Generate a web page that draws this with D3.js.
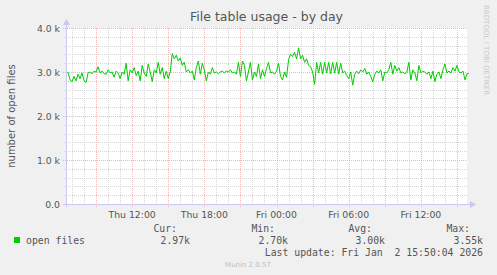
<!DOCTYPE html>
<html>
<head>
<meta charset="utf-8">
<script src="https://cdn.jsdelivr.net/npm/d3@7"></script>
<style>
  body { margin: 0; background: #f0f0f0; }
  svg { display: block; }
  text { font-family: "DejaVu Sans", sans-serif; }
  .mono { font-family: "DejaVu Sans Mono", monospace; }
</style>
</head>
<body>
<script>
// open files, one sample per 10 minutes, in thousands
const seg1 = [3.00, 2.82, 2.78, 2.90, 2.80, 2.95, 2.85, 2.98, 2.80, 2.76, 2.98, 3.00, 2.96, 3.02, 3.00, 3.12, 2.98, 3.02, 2.96, 2.95,
  3.05, 2.98, 3.00, 2.88, 3.02, 2.98, 2.85, 3.00, 2.95, 3.20, 2.80, 3.05, 2.98, 3.10, 2.92, 3.02, 2.80, 3.15, 2.98, 2.90,
  3.18, 3.00, 2.78, 3.05, 2.98, 3.22, 2.95, 3.10, 2.85, 3.02];
const seg2 = [2.85, 3.00, 3.42, 3.30, 3.38, 3.25, 3.32, 3.15, 3.22, 3.00, 3.05, 2.98, 3.02, 2.82, 3.10, 3.25, 2.95, 3.20, 3.05, 2.80,
  3.00, 2.95, 3.10, 2.98, 3.00, 2.96, 3.00, 3.02, 2.98, 3.02, 3.00, 3.05, 2.98, 3.00, 2.95, 3.22, 2.90, 3.25, 3.15, 2.80,
  3.00, 3.22, 2.82, 3.00, 2.90, 3.18, 2.85, 3.05, 2.90, 3.08];
const seg3 = [3.22, 2.98, 3.00, 2.95, 3.02, 3.20, 2.90, 2.82, 3.00, 2.88, 3.28, 3.40, 3.35, 3.45, 3.30, 3.55, 3.30, 3.38, 3.22, 3.30,
  3.15, 3.12, 3.00, 2.72, 3.22, 2.98, 3.22, 2.95, 3.22, 2.98, 3.22, 2.96, 3.22, 2.98, 3.22, 2.95, 3.20, 2.98, 3.02, 2.92,
  2.85, 3.00, 2.70, 2.95, 3.02, 2.96, 3.05, 3.00, 3.08, 2.95];
const seg4 = [3.00, 2.90, 2.78, 2.95, 3.02, 2.98, 3.05, 2.80, 3.00, 2.98, 3.05, 3.22, 2.95, 3.15, 3.02, 3.10, 2.98, 3.00, 2.96, 3.00,
  3.22, 2.82, 3.05, 2.98, 2.80, 3.15, 2.98, 3.02, 3.00, 2.95, 3.00, 2.85, 3.02, 2.78, 2.95, 3.00, 2.85, 3.05, 3.18, 2.98,
  3.02, 2.98, 3.10, 3.02, 3.15, 3.00, 2.98, 3.02, 2.82, 2.96, 2.97];
const openFiles = seg1.concat(seg2, seg3, seg4);

const yTicks = [0, 1000, 2000, 3000, 4000];
const yTickLabels = ["0.0", "1.0 k", "2.0 k", "3.0 k", "4.0 k"];
const xTickLabels = ["Thu 12:00", "Thu 18:00", "Fri 00:00", "Fri 06:00", "Fri 12:00"];
const statNames = ["Cur:", "Min:", "Avg:", "Max:"];
const statValues = ["2.97k", "2.70k", "3.00k", "3.55k"];

const endTime = new Date(2026, 0, 2, 15, 50, 4);
const startTime = new Date(endTime.getTime() - 120000 * 1000);
const stepMs = 600 * 1000;

const W = 497, H = 275;
const pLeft = 66, pRight = 467, pTop = 28, pBottom = 204;

const svg = d3.select("body").append("svg").attr("width", W).attr("height", H);

svg.append("rect").attr("width", W).attr("height", H).attr("fill", "#f0f0f0");
svg.append("rect")
  .attr("x", pLeft).attr("y", pTop)
  .attr("width", pRight - pLeft).attr("height", pBottom - pTop)
  .attr("fill", "#ffffff");

const x = d3.scaleTime().domain([startTime, endTime]).range([pLeft, pRight]);
const y = d3.scaleLinear().domain([0, 4000]).range([pBottom, pTop]);

// minor grid
const hours = d3.timeHour.range(startTime, endTime);
svg.append("g").selectAll("line")
  .data(hours.filter(d => d.getHours() % 3 !== 0))
  .join("line")
  .attr("x1", d => Math.round(x(d)) + 0.5).attr("x2", d => Math.round(x(d)) + 0.5)
  .attr("y1", pTop).attr("y2", pBottom + 2)
  .attr("stroke", "#d8d8d8").attr("stroke-dasharray", "1,1");
svg.append("g").selectAll("line")
  .data(d3.range(200, 4000, 200).filter(v => v % 1000 !== 0))
  .join("line")
  .attr("x1", pLeft - 2).attr("x2", pRight)
  .attr("y1", d => Math.round(y(d)) + 0.5).attr("y2", d => Math.round(y(d)) + 0.5)
  .attr("stroke", "#d8d8d8").attr("stroke-dasharray", "1,1");

// major grid
svg.append("g").selectAll("line")
  .data(hours.filter(d => d.getHours() % 3 === 0))
  .join("line")
  .attr("x1", d => Math.round(x(d)) + 0.5).attr("x2", d => Math.round(x(d)) + 0.5)
  .attr("y1", pTop).attr("y2", pBottom + 3)
  .attr("stroke", "#e8b8b8").attr("stroke-dasharray", "1,1");
svg.append("g").selectAll("line")
  .data(yTicks.slice(1))
  .join("line")
  .attr("x1", pLeft - 3).attr("x2", pRight)
  .attr("y1", d => Math.round(y(d)) + 0.5).attr("y2", d => Math.round(y(d)) + 0.5)
  .attr("stroke", "#e8b8b8").attr("stroke-dasharray", "1,1");

// axes lines with arrows
const axisColor = "#c8c8f0";
svg.append("line").attr("x1", pLeft + 0.5).attr("x2", pLeft + 0.5).attr("y1", pBottom + 3).attr("y2", pTop - 4)
  .attr("stroke", axisColor);
svg.append("path").attr("d", `M${pLeft - 3},${pTop - 3}L${pLeft + 0.5},${pTop - 9}L${pLeft + 4},${pTop - 3}Z`).attr("fill", axisColor);
svg.append("line").attr("x1", pLeft - 3).attr("x2", pRight + 4).attr("y1", pBottom + 0.5).attr("y2", pBottom + 0.5)
  .attr("stroke", axisColor);
svg.append("path").attr("d", `M${pRight + 3},${pBottom - 3}L${pRight + 9},${pBottom + 0.5}L${pRight + 3},${pBottom + 4}Z`).attr("fill", axisColor);

// y tick labels
svg.append("g").selectAll("text")
  .data(yTicks)
  .join("text")
  .attr("x", pLeft - 6).attr("y", d => y(d) + 3.5)
  .attr("text-anchor", "end").attr("font-size", 9.3).attr("fill", "#555")
  .text((d, i) => yTickLabels[i]);

// x tick labels
const xTicks = hours.filter(d => d.getHours() % 6 === 0);
svg.append("g").selectAll("text")
  .data(xTicks)
  .join("text")
  .attr("x", d => x(d)).attr("y", pBottom + 14)
  .attr("text-anchor", "middle").attr("font-size", 9.3).attr("fill", "#555")
  .text((d, i) => xTickLabels[i]);

// data line
const line = d3.line()
  .x((d, i) => x(new Date(startTime.getTime() + (i + 1) * stepMs)))
  .y(d => y(d * 1000));
svg.append("path")
  .datum(openFiles)
  .attr("d", line)
  .attr("fill", "none").attr("stroke", "#00cc00").attr("stroke-width", 1);

// title and labels
svg.append("text").attr("x", (pLeft + pRight) / 2).attr("y", 21)
  .attr("text-anchor", "middle").attr("font-size", 12.5).attr("fill", "#555")
  .text("File table usage - by day");
svg.append("text")
  .attr("transform", `translate(15,${(pTop + pBottom) / 2}) rotate(-90)`)
  .attr("text-anchor", "middle").attr("font-size", 10).attr("fill", "#555")
  .text("number of open files");
svg.append("text")
  .attr("transform", "translate(484,5) rotate(90)")
  .attr("text-anchor", "start").attr("font-size", 7).attr("fill", "#c8c8c8")
  .text("RRDTOOL / TOBI OETIKER");

// legend
svg.append("rect").attr("x", 14).attr("y", 237).attr("width", 6).attr("height", 6).attr("fill", "#00cc00");
svg.append("text").attr("class", "mono").attr("x", 26).attr("y", 243.5)
  .attr("font-size", 9.8).attr("fill", "#555").text("open files");
const statRight = [177, 275, 372, 470];
svg.append("g").selectAll("text")
  .data(statNames)
  .join("text").attr("class", "mono")
  .attr("x", (d, i) => statRight[i]).attr("y", 231.5)
  .attr("text-anchor", "end").attr("font-size", 9.8).attr("fill", "#555")
  .text(d => d);
svg.append("g").selectAll("text")
  .data(statValues)
  .join("text").attr("class", "mono")
  .attr("x", (d, i) => statRight[i] + 13).attr("y", 243.5)
  .attr("text-anchor", "end").attr("font-size", 9.8).attr("fill", "#555")
  .text(d => d);
svg.append("text").attr("class", "mono").attr("x", 483).attr("y", 255.5)
  .attr("text-anchor", "end").attr("font-size", 9.8).attr("fill", "#555")
  .style("white-space", "pre")
  .text("Last update: Fri Jan  2 15:50:04 2026");
svg.append("text").attr("x", 248).attr("y", 267)
  .attr("text-anchor", "middle").attr("font-size", 7).attr("fill", "#c0c0c0")
  .text("Munin 2.0.57");
</script>
</body>
</html>
